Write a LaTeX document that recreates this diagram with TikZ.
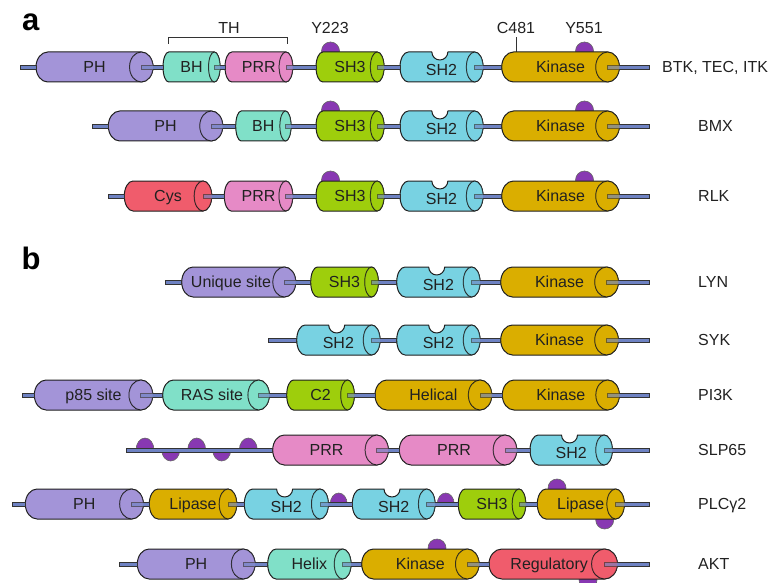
\documentclass[tikz,border=0pt]{standalone}
\usepackage{fontspec}
\usepackage{etoolbox}
\setmainfont{Liberation Sans}
\usetikzlibrary{calc}
\definecolor{cph}{HTML}{A394D8}
\definecolor{cbh}{HTML}{80E0C8}
\definecolor{cprr}{HTML}{E68AC6}
\definecolor{csh3}{HTML}{9ECE0C}
\definecolor{csh2}{HTML}{78D2E2}
\definecolor{ckin}{HTML}{DAAE00}
\definecolor{ccys}{HTML}{F05C6C}
\definecolor{cbump}{HTML}{8838B2}
\definecolor{clink}{HTML}{6E82C3}
\tikzset{
  dom/.style={draw=black!88, line width=1pt, line join=round},
  lab/.style={font=\fontsize{16}{18}\selectfont, text=black!87, inner sep=0pt, anchor=base},
  side/.style={lab, anchor=base west},
  panel/.style={font=\fontsize{31}{34}\selectfont\bfseries, inner sep=0pt, anchor=base west},
  linker/.style={draw=black!80, line width=0.8pt, fill=clink},
  bump/.style={fill=cbump, draw=black!60, line width=0.6pt},
  brk/.style={draw=black!80, line width=0.9pt},
  capover/.style={fill opacity=0.35},
}
\gdef\capList{}
\newcommand\protdom[7]{%
  \pgfmathsetmacro\dRx{0.1*(#3-#2)}%
  \pgfmathsetmacro\dXc{#3-\dRx}%
  \pgfmathsetmacro\dXl{#2+\dRx}%
  \pgfmathsetmacro\dLx{(#2+#3)/2+#7}%
  \draw[dom, fill=#5] (\dXl,#4-15) -- (\dXc,#4-15)
    arc[start angle=270,end angle=450,x radius=\dRx,y radius=15] -- (\dXl,#4+15)
    arc[start angle=90,end angle=270,x radius=\dRx,y radius=15] -- cycle;
  \draw[dom, fill=#5] (\dXc,#4) ellipse[x radius=\dRx,y radius=15];
  \xappto\capList{\noexpand\fill[capover,fill=#5] (\dXc,#4) ellipse[x radius=\dRx,y radius=14.5];}%
  \coordinate (#1-l) at (#2,#4);
  \coordinate (#1-c) at (\dXc,#4);
  \node[lab] (#1) at (\dLx,#4+5.5) {#6};
}
\newcommand\protsh[4]{%
  \pgfmathsetmacro\dRx{0.1*(#3-#2)}%
  \pgfmathsetmacro\dXc{#3-\dRx}%
  \pgfmathsetmacro\dXl{#2+\dRx}%
  \pgfmathsetmacro\dNx{#2+0.48*(#3-#2)}%
  \pgfmathsetmacro\dLx{(#2+#3)/2}%
  \draw[dom, fill=csh2] (\dXl,#4-15) -- (\dNx-8,#4-15)
    arc[start angle=180,end angle=0,radius=8] -- (\dXc,#4-15)
    arc[start angle=270,end angle=450,x radius=\dRx,y radius=15] -- (\dXl,#4+15)
    arc[start angle=90,end angle=270,x radius=\dRx,y radius=15] -- cycle;
  \draw[dom, fill=csh2] (\dXc,#4) ellipse[x radius=\dRx,y radius=15];
  \xappto\capList{\noexpand\fill[capover,fill=csh2] (\dXc,#4) ellipse[x radius=\dRx,y radius=14.5];}%
  \coordinate (#1-l) at (#2,#4);
  \coordinate (#1-c) at (\dXc,#4);
  \node[lab] (#1) at (\dLx,#4+8.5) {SH2};
}
\newcommand\lnk[2]{\draw[linker] ($(#1)+(0,-2)$) rectangle ($(#2)+(0,2)$);}
\newcommand\dbump[2]{\draw[bump] (#1,#2) circle[radius=9];}
\newcommand\bumpUp[4]{\draw[bump] (#1-#3,#2) arc[start angle=180,end angle=360,x radius=#3,y radius=#4] -- cycle;}
\newcommand\bumpDn[4]{\draw[bump] (#1-#3,#2) arc[start angle=180,end angle=0,x radius=#3,y radius=#4] -- cycle;}

\begin{document}
\begin{tikzpicture}[x=1pt,y=-1pt]
\useasboundingbox (0,0) rectangle (771,583);

% panel letters
\node[panel] (pa) at (22,31) {a};
\node[panel] (pb) at (21.5,269.5) {b};

% top annotations
\node[lab] (th) at (229,33.5) {TH};
\node[lab] (y223) at (330,33.5) {Y223};
\node[lab] (c481) at (516,33.5) {C481};
\node[lab] (y551) at (584,33.5) {Y551};
\coordinate (thl) at (168.7,44);
\coordinate (thr) at (287.3,44);
\draw[brk] (thl) -- ++(0,-6.7) -| (thr);
\coordinate (c481b) at (516,37.3);
\coordinate (c481t) at (516,52);
\draw[brk] (c481b) -- (c481t);

% ---------- Row 1: BTK, TEC, ITK ----------
\dbump{330.5}{51} \dbump{584.5}{51}
\coordinate (a1s) at (20,67); \coordinate (a1e) at (649,67);
\protdom{a1ph}{36}{153}{67}{cph}{PH}{0}
\protdom{a1bh}{163}{220}{67}{cbh}{BH}{0}
\protdom{a1prr}{225}{292.7}{67}{cprr}{PRR}{0}
\protdom{a1sh3}{316}{384}{67}{csh3}{SH3}{0}
\protsh{a1sh2}{400}{483}{67}
\protdom{a1kin}{501.7}{619.3}{67}{ckin}{Kinase}{0}
\foreach \a/\b in {a1s/a1ph-l,a1ph-c/a1bh-l,a1bh-c/a1prr-l,a1prr-c/a1sh3-l,a1sh3-c/a1sh2-l,a1sh2-c/a1kin-l,a1kin-c/a1e} {\lnk{\a}{\b}}
\node[side] (n1) at (662,72.5) {BTK, TEC, ITK};

% ---------- Row 2: BMX ----------
\dbump{330.5}{110} \dbump{584.5}{110}
\coordinate (a2s) at (92.7,126); \coordinate (a2e) at (649,126);
\protdom{a2ph}{108.3}{222.7}{126}{cph}{PH}{0}
\protdom{a2bh}{235.7}{291}{126}{cbh}{BH}{0}
\protdom{a2sh3}{316}{384}{126}{csh3}{SH3}{0}
\protsh{a2sh2}{400}{483}{126}
\protdom{a2kin}{501.7}{619.3}{126}{ckin}{Kinase}{0}
\foreach \a/\b in {a2s/a2ph-l,a2ph-c/a2bh-l,a2bh-c/a2sh3-l,a2sh3-c/a2sh2-l,a2sh2-c/a2kin-l,a2kin-c/a2e} {\lnk{\a}{\b}}
\node[side] (n2) at (698,131.5) {BMX};

% ---------- Row 3: RLK ----------
\dbump{330.5}{180} \dbump{584.5}{180}
\coordinate (a3s) at (108.3,196); \coordinate (a3e) at (649,196);
\protdom{a3cys}{124.3}{211.7}{196}{ccys}{Cys}{0}
\protdom{a3prr}{224.3}{292.7}{196}{cprr}{PRR}{0}
\protdom{a3sh3}{316}{384}{196}{csh3}{SH3}{0}
\protsh{a3sh2}{400}{483}{196}
\protdom{a3kin}{501.7}{619.3}{196}{ckin}{Kinase}{0}
\foreach \a/\b in {a3s/a3cys-l,a3cys-c/a3prr-l,a3prr-c/a3sh3-l,a3sh3-c/a3sh2-l,a3sh2-c/a3kin-l,a3kin-c/a3e} {\lnk{\a}{\b}}
\node[side] (n3) at (698,201.5) {RLK};

% ---------- LYN ----------
\coordinate (b1s) at (165.7,282); \coordinate (b1e) at (649,282);
\protdom{b1uni}{181.7}{295.7}{282}{cph}{Unique site}{-7.7}
\protdom{b1sh3}{310.7}{378.3}{282}{csh3}{SH3}{0}
\protsh{b1sh2}{396.7}{480}{282}
\protdom{b1kin}{500.7}{618.3}{282}{ckin}{Kinase}{0}
\foreach \a/\b in {b1s/b1uni-l,b1uni-c/b1sh3-l,b1sh3-c/b1sh2-l,b1sh2-c/b1kin-l,b1kin-c/b1e} {\lnk{\a}{\b}}
\node[side] (n4) at (698,287.5) {LYN};

% ---------- SYK ----------
\coordinate (b2s) at (268.3,340); \coordinate (b2e) at (649,340);
\protsh{b2sha}{296.7}{380}{340}
\protsh{b2shb}{396.7}{480}{340}
\protdom{b2kin}{500.7}{618.3}{340}{ckin}{Kinase}{0}
\foreach \a/\b in {b2s/b2sha-l,b2sha-c/b2shb-l,b2shb-c/b2kin-l,b2kin-c/b2e} {\lnk{\a}{\b}}
\node[side] (n5) at (698,345.5) {SYK};

% ---------- PI3K ----------
\coordinate (b3s) at (22.3,395); \coordinate (b3e) at (649,395);
\protdom{b3p85}{34.3}{152.7}{395}{cph}{p85 site}{0}
\protdom{b3ras}{162.7}{269.3}{395}{cbh}{RAS site}{-4}
\protdom{b3c2}{286.7}{354.3}{395}{csh3}{C2}{0}
\protdom{b3hel}{375}{491.7}{395}{ckin}{Helical}{0}
\protdom{b3kin}{502.3}{619.3}{395}{ckin}{Kinase}{0}
\foreach \a/\b in {b3s/b3p85-l,b3p85-c/b3ras-l,b3ras-c/b3c2-l,b3c2-c/b3hel-l,b3hel-c/b3kin-l,b3kin-c/b3e} {\lnk{\a}{\b}}
\node[side] (n6) at (698,400.5) {PI3K};

% ---------- SLP65 ----------
\bumpUp{145}{450}{9}{12} \bumpUp{196.7}{450}{9}{12} \bumpUp{248.3}{450}{9}{12}
\bumpDn{170.7}{450}{9}{11} \bumpDn{221.7}{450}{9}{11}
\coordinate (b4s) at (126,450); \coordinate (b4e) at (649,450);
\protdom{b4prra}{272.7}{388.3}{450}{cprr}{PRR}{-4}
\protdom{b4prrb}{399.3}{516.7}{450}{cprr}{PRR}{-4}
\protsh{b4sh2}{530}{612.3}{450}
\foreach \a/\b in {b4s/b4prra-l,b4prra-c/b4prrb-l,b4prrb-c/b4sh2-l,b4sh2-c/b4e} {\lnk{\a}{\b}}
\node[side] (n7) at (698,455.5) {SLP65};

% ---------- PLCgamma2 ----------
\bumpUp{338.7}{504}{8.5}{11} \bumpUp{445.7}{504}{8.5}{11}
\dbump{557}{488} \dbump{604.7}{520}
\coordinate (b5s) at (12.7,504); \coordinate (b5e) at (649,504);
\protdom{b5ph}{25.3}{143.3}{504}{cph}{PH}{0}
\protdom{b5lipa}{149.3}{236.7}{504}{ckin}{Lipase}{0}
\protsh{b5sha}{244.3}{328.3}{504}
\protsh{b5shb}{352.3}{435}{504}
\protdom{b5sh3}{458.3}{525.7}{504}{csh3}{SH3}{0}
\protdom{b5lipb}{537.3}{624.3}{504}{ckin}{Lipase}{0}
\foreach \a/\b in {b5s/b5ph-l,b5ph-c/b5lipa-l,b5lipa-c/b5sha-l,b5sha-c/b5shb-l,b5shb-c/b5sh3-l,b5sh3-c/b5lipb-l,b5lipb-c/b5e} {\lnk{\a}{\b}}
\node[side] (n8) at (698,509.5) {PLCγ2};

% ---------- AKT ----------
\dbump{437}{548} \dbump{588}{580}
\coordinate (b6s) at (119,564); \coordinate (b6e) at (649,564);
\protdom{b6ph}{137.3}{255}{564}{cph}{PH}{0}
\protdom{b6hel}{267.7}{351}{564}{cbh}{Helix}{0}
\protdom{b6kin}{361.7}{479}{564}{ckin}{Kinase}{0}
\protdom{b6reg}{489}{617.3}{564}{ccys}{Regulatory}{-4}
\foreach \a/\b in {b6s/b6ph-l,b6ph-c/b6hel-l,b6hel-c/b6kin-l,b6kin-c/b6reg-l,b6reg-c/b6e} {\lnk{\a}{\b}}
\node[side] (n9) at (698,569.5) {AKT};

% translucent cap faces over the linker ends
\capList
\end{tikzpicture}
\end{document}
